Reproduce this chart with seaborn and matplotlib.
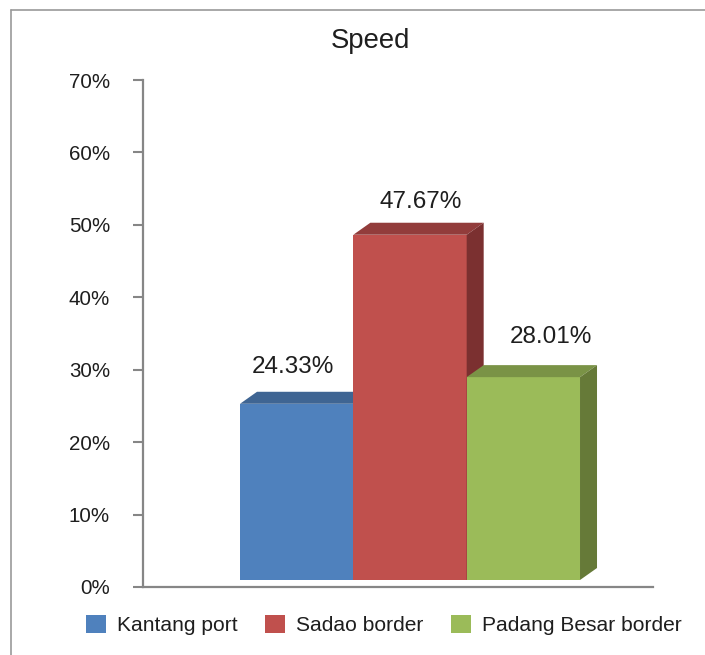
import matplotlib
matplotlib.use("Agg")
import matplotlib.pyplot as plt
import pandas as pd
import seaborn as sns
from matplotlib.lines import Line2D
from matplotlib.patches import Polygon, Rectangle
from matplotlib.ticker import FixedLocator, PercentFormatter

# ---- data ----
title = "Speed"
series = ["Kantang port", "Sadao border", "Padang Besar border"]
values = [0.2433, 0.4767, 0.2801]
value_labels = ["24.33%", "47.67%", "28.01%"]
yticks = [0.0, 0.1, 0.2, 0.3, 0.4, 0.5, 0.6, 0.7]

# ---- style ----
front_colors = ["#4F81BD", "#C0504D", "#9BBB59"]
top_colors = ["#3F6593", "#923C3B", "#7A9346"]
side_colors = ["#385D8A", "#7B3030", "#667A38"]
axis_gray = "#868686"
text_color = "#1e1e1e"

sns.set_theme(style="white")
plt.rcParams["font.family"] = ["Liberation Sans", "DejaVu Sans"]

W, H, DPI = 705, 655, 100
fig = plt.figure(figsize=(W / DPI, H / DPI), dpi=DPI)
fig.patch.set_facecolor("white")

# axes box in pixels
ax_l, ax_b, ax_w, ax_h = 143, 68, 510, 507
ax = fig.add_axes([ax_l / W, ax_b / H, ax_w / W, ax_h / H])

df = pd.DataFrame({"series": series, "value": values})
sns.barplot(data=df, x="series", y="value", hue="series", order=series,
            hue_order=series, palette=front_colors, width=1.0, dodge=False,
            saturation=1, legend=False, ax=ax)

xlim = (-1.356, 3.144)
ylim = (0.0, 0.70)
ax.set_xlim(*xlim)
ax.set_ylim(*ylim)

# pixel -> data unit conversions for the pseudo-3D faces
ux = (xlim[1] - xlim[0]) / ax_w
uy = (ylim[1] - ylim[0]) / ax_h
lift = 7 * uy
dx, dy = 17 * ux, 12 * uy

# per-bar data label offsets (pixels)
label_shift = [(-4, 37), (11, 33), (28, 40)]

bars = sorted(ax.patches, key=lambda r: r.get_x())
for i, p in enumerate(bars):
    x0, w, h = p.get_x(), p.get_width(), p.get_height()
    p.set_y(lift)
    p.set_zorder(3 + i)
    p.set_edgecolor("none")
    p.set_linewidth(0)
    p.set_clip_on(False)
    ytop = lift + h
    top = Polygon([(x0, ytop), (x0 + w, ytop), (x0 + w + dx, ytop + dy),
                   (x0 + dx, ytop + dy)], closed=True,
                  facecolor=top_colors[i], edgecolor="none", zorder=3 + i,
                  clip_on=False)
    side = Polygon([(x0 + w, lift), (x0 + w, ytop), (x0 + w + dx, ytop + dy),
                    (x0 + w + dx, lift + dy)], closed=True,
                   facecolor=side_colors[i], edgecolor="none", zorder=3 + i,
                   clip_on=False)
    ax.add_patch(top)
    ax.add_patch(side)
    sx, sy = label_shift[i]
    ax.annotate(value_labels[i], (x0 + w / 2, ytop), xytext=(sx * 0.72, sy * 0.72),
                textcoords="offset points", ha="center", va="center",
                fontsize=17.5, color=text_color, zorder=10)

# axes styling
ax.yaxis.set_major_locator(FixedLocator(yticks))
ax.yaxis.set_major_formatter(PercentFormatter(1.0, decimals=0))
ax.set_xticks([])
ax.set_xlabel("")
ax.set_ylabel("")
for s in ("top", "right"):
    ax.spines[s].set_visible(False)
for s in ("left", "bottom"):
    ax.spines[s].set_color(axis_gray)
    ax.spines[s].set_linewidth(1.6)
ax.tick_params(axis="y", left=True, length=7.2, width=1.5, color=axis_gray,
               pad=16.5, labelsize=14.8, labelcolor=text_color)
ax.set_facecolor("white")

# title
fig.text(370 / W, 1 - 48 / H, title, ha="center", va="baseline",
         fontsize=19.8, color=text_color)

# legend
handles = [Rectangle((0, 0), 1, 1, facecolor=c, edgecolor="none") for c in front_colors]
fig.legend(handles, series, loc="center left", bbox_to_anchor=(86 / W, 30 / H),
           ncol=3, frameon=False, fontsize=15.1, handlelength=0.95,
           handleheight=0.95, handletextpad=0.52, columnspacing=1.33,
           borderpad=0, borderaxespad=0, labelcolor=text_color)

# chart area frame
frame_c = "#9a9a9a"
fig.add_artist(Line2D([11 / W, 11 / W], [0, 1 - 10 / H], transform=fig.transFigure,
                      color=frame_c, lw=1.2))
fig.add_artist(Line2D([11 / W, 1], [1 - 10 / H, 1 - 10 / H], transform=fig.transFigure,
                      color=frame_c, lw=1.2))

fig.savefig("out.png", dpi=DPI, facecolor="white")
